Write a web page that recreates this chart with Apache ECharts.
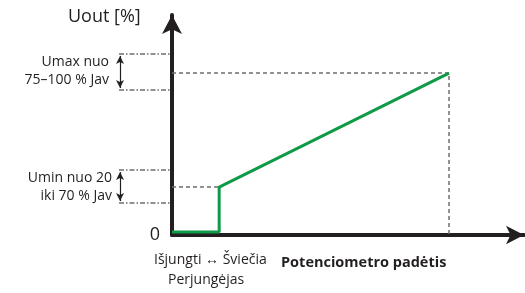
<!DOCTYPE html>
<html><head><meta charset="utf-8">
<script src="https://cdn.jsdelivr.net/npm/echarts@6/dist/echarts.min.js"></script>
<style>html,body{margin:0;padding:0;background:#fff}#c{width:525px;height:293px}</style>
</head><body><div id="c"></div>
<script>
// Output curve (potentiometer position vs Uout %)
const outX = [0, 13.4, 13.4, 78.7];
const outY = [1.4, 1.4, 21.8, 73.6];
// Guide lines
const minGuideX = [0, 13.4];
const minGuideY = [21.8, 21.8];
const maxGuideX = [0, 78.7, 78.7];
const maxGuideY = [73.6, 73.6, 0];
// Adjustment ranges (brackets), drawn in a side grid spanning 0..1
const umaxRange = [65.9, 82.3];
const uminRange = [14.5, 29.5];
const bracketX = [0, 1];
const arrowX = 0.02;
const yTicks = ['0'];

const zip = (xs, ys) => xs.map((x, i) => [x, ys[i]]);
const font = '"Open Sans", sans-serif';
const txtColor = '#231f20';
const dashGrey = '#6d6e71';

function bracketSeries(range) {
  const ls = { color: dashGrey, width: 1.5, type: [5, 2, 1.5, 2] };
  return [
    { type: 'line', xAxisIndex: 1, yAxisIndex: 1, data: [[bracketX[0], range[1]], [bracketX[1], range[1]]],
      symbol: 'none', lineStyle: ls, silent: true },
    { type: 'line', xAxisIndex: 1, yAxisIndex: 1, data: [[bracketX[0], range[0]], [bracketX[1], range[0]]],
      symbol: 'none', lineStyle: ls, silent: true,
      markLine: { silent: true, symbol: ['arrow', 'arrow'], symbolSize: [6, 8], label: { show: false },
        lineStyle: { color: txtColor, width: 1.2, type: 'solid' },
        data: [[{ coord: [arrowX, range[0] + 0.9] }, { coord: [arrowX, range[1] - 0.9] }]] } }
  ];
}

const chart = echarts.init(document.getElementById('c'), null, { renderer: 'canvas' });
chart.setOption({
  animation: false,
  grid: [
    { left: 172, right: 1, top: 15, bottom: 58 },
    { left: 119, width: 51, top: 15, bottom: 58 }
  ],
  xAxis: [
    { type: 'value', min: 0, max: 100, splitLine: { show: false },
      axisTick: { show: false }, axisLabel: { show: false },
      axisLine: { lineStyle: { color: txtColor, width: 4 }, symbol: ['none', 'arrow'], symbolSize: [14, 18] } },
    { type: 'value', gridIndex: 1, min: 0, max: 1, show: false }
  ],
  yAxis: [
    { type: 'value', min: 0, max: 100, interval: 100, splitLine: { show: false },
      axisTick: { show: false },
      axisLabel: { margin: 12, fontSize: 18, fontFamily: font, color: txtColor,
        formatter: v => (v === 0 ? yTicks[0] : '') },
      axisLine: { show: true, lineStyle: { color: txtColor, width: 4 }, symbol: ['none', 'arrow'], symbolSize: [15, 19] } },
    { type: 'value', gridIndex: 1, min: 0, max: 100, show: false }
  ],
  series: [
    { type: 'line', data: zip(minGuideX, minGuideY), symbol: 'none',
      lineStyle: { color: dashGrey, width: 1.5, type: [4, 3] }, silent: true },
    { type: 'line', data: zip(maxGuideX, maxGuideY), symbol: 'none',
      lineStyle: { color: dashGrey, width: 1.5, type: [4, 3] }, silent: true },
    ...bracketSeries(umaxRange),
    ...bracketSeries(uminRange),
    { type: 'line', data: zip(outX, outY), symbol: 'none', z: 5,
      lineStyle: { color: '#0f9a48', width: 3 } }
  ],
  graphic: [
    { type: 'text', x: 68, y: 17, style: { text: 'Uout [%]', font: '18px ' + font, fill: txtColor, textVerticalAlign: 'middle' } },
    { type: 'text', x: 109, y: 62, style: { text: 'Umax nuo', font: '14px ' + font, fill: txtColor, textAlign: 'right', textVerticalAlign: 'middle' } },
    { type: 'text', x: 109, y: 80, style: { text: '75–100 % Jav', font: '14px ' + font, fill: txtColor, textAlign: 'right', textVerticalAlign: 'middle' } },
    { type: 'text', x: 112, y: 178, style: { text: 'Umin nuo 20', font: '14px ' + font, fill: txtColor, textAlign: 'right', textVerticalAlign: 'middle' } },
    { type: 'text', x: 112, y: 196, style: { text: 'iki 70 % Jav', font: '14px ' + font, fill: txtColor, textAlign: 'right', textVerticalAlign: 'middle' } },
    { type: 'text', x: 154, y: 260, style: { text: 'Išjungti ↔ Šviečia', font: '14px ' + font, fill: txtColor, textVerticalAlign: 'middle' } },
    { type: 'text', x: 168, y: 280, style: { text: 'Perjungėjas', font: '14px ' + font, fill: txtColor, textVerticalAlign: 'middle' } },
    { type: 'text', x: 281, y: 263, z: 10, style: { text: 'Potenciometro padėtis', font: 'bold 14.5px ' + font, fill: txtColor, textVerticalAlign: 'middle' } }
  ]
});
</script></body></html>
